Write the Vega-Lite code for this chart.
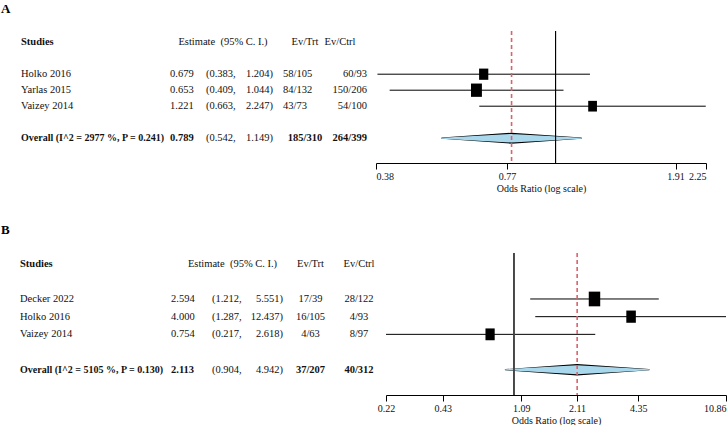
{
"$schema":"https://vega.github.io/schema/vega-lite/v6.json",
"padding":{"left":1,"top":3,"right":0,"bottom":0},
"background":"white",
"datasets":{
"a":[
{"kind":"header","row":0,"label":"Studies","head":"Estimate\u00a0\u00a0(95% C. I.)","evt":"Ev/Trt","evc":"Ev/Ctrl"},
{"kind":"study","row":2,"label":"Holko 2016","est":0.679,"lo":0.383,"hi":1.204,"evt":"58/105","evc":"60/93","weight":29.6},
{"kind":"study","row":3,"label":"Yarlas 2015","est":0.653,"lo":0.409,"hi":1.044,"evt":"84/132","evc":"150/206","weight":44.3},
{"kind":"study","row":4,"label":"Vaizey 2014","est":1.221,"lo":0.663,"hi":2.247,"evt":"43/73","evc":"54/100","weight":26.1},
{"kind":"overall","row":6,"label":"Overall (I^2 = 2977 %, P = 0.241)","est":0.789,"lo":0.542,"hi":1.149,"evt":"185/310","evc":"264/399"}
],
"b":[
{"kind":"header","row":0,"label":"Studies","head":"Estimate\u00a0\u00a0(95% C. I.)","evt":"Ev/Trt","evc":"Ev/Ctrl"},
{"kind":"study","row":2,"label":"Decker 2022","est":2.594,"lo":1.212,"hi":5.551,"evt":"17/39","evc":"28/122","weight":54.8},
{"kind":"study","row":3,"label":"Holko 2016","est":4.0,"lo":1.287,"hi":12.437,"evt":"16/105","evc":"4/93","weight":24.7},
{"kind":"study","row":4,"label":"Vaizey 2014","est":0.754,"lo":0.217,"hi":2.618,"evt":"4/63","evc":"8/97","weight":20.5},
{"kind":"overall","row":6,"label":"Overall (I^2 = 5105 %, P = 0.130)","est":2.113,"lo":0.904,"hi":4.942,"evt":"37/207","evc":"40/312"}
]
},
"config":{
"view":{"stroke":null},
"text":{"font":"Liberation Serif","fontSize":10.5,"baseline":"middle","color":"#111"},
"axis":{"labelFont":"Liberation Serif","labelFontSize":10,"titleFont":"Liberation Serif","titleFontSize":10,"titleFontWeight":"normal","labelColor":"#111","titleColor":"#111","domainColor":"black","tickColor":"black","tickSize":6,"labelPadding":2,"titlePadding":2,"grid":false},
"title":{"font":"Liberation Serif","fontSize":13,"fontWeight":"bold","color":"black","anchor":"start"}
},
"spacing":31,
"resolve":{"scale":{"x":"independent","y":"independent","size":"independent"}},
"vconcat":[
{
"title":{"text":"A","offset":14},
"spacing":0,
"bounds":"flush",
"resolve":{"scale":{"x":"independent","y":"independent","size":"independent"}},
"hconcat":[
{"width":169,"height":132,"data":{"name":"a"},"layer":[
{"transform":[{"filter":"datum.kind=='header'"}],"mark":{"type":"text","align":"left","dx":20,"fontWeight":"bold"},"encoding":{"x":{"value":0},"y":{"field":"row","type":"quantitative","scale":{"domain":[-0.7,7.55],"reverse":true,"nice":false,"zero":false},"axis":null},"text":{"field":"label"}}},
{"transform":[{"filter":"datum.kind=='study'"}],"mark":{"type":"text","align":"left","dx":20},"encoding":{"x":{"value":0},"y":{"field":"row","type":"quantitative"},"text":{"field":"label"}}},
{"transform":[{"filter":"datum.kind=='overall'"}],"mark":{"type":"text","align":"left","dx":20,"fontWeight":"bold","fontSize":10},"encoding":{"x":{"value":0},"y":{"field":"row","type":"quantitative"},"text":{"field":"label"}}}
]},
{"width":36,"height":132,"data":{"name":"a"},"layer":[
{"transform":[{"filter":"datum.kind=='study'"}],"mark":{"type":"text","align":"left"},"encoding":{"x":{"value":0},"y":{"field":"row","type":"quantitative","scale":{"domain":[-0.7,7.55],"reverse":true,"nice":false,"zero":false},"axis":null},"text":{"field":"est","type":"quantitative","format":".3f"}}},
{"transform":[{"filter":"datum.kind=='overall'"}],"mark":{"type":"text","align":"left","fontWeight":"bold","fontSize":10.5},"encoding":{"x":{"value":0},"y":{"field":"row","type":"quantitative"},"text":{"field":"est","type":"quantitative","format":".3f"}}}
]},
{"width":34,"height":132,"data":{"name":"a"},"layer":[
{"transform":[{"filter":"datum.kind=='header'"}],"mark":{"type":"text","align":"center"},"encoding":{"y":{"field":"row","type":"quantitative","scale":{"domain":[-0.7,7.55],"reverse":true,"nice":false,"zero":false},"axis":null},"text":{"field":"head"}}},
{"transform":[{"filter":"datum.kind!='header'"},{"calculate":"'(' + format(datum.lo, '.3f') + ','","as":"cil"}],"mark":{"type":"text","align":"left"},"encoding":{"x":{"value":0},"y":{"field":"row","type":"quantitative"},"text":{"field":"cil"}}}
]},
{"width":43,"height":132,"data":{"name":"a"},"layer":[
{"transform":[{"filter":"datum.kind!='header'"},{"calculate":"format(datum.hi, '.3f') + ')'","as":"cir"}],"mark":{"type":"text","align":"right","dx":-10},"encoding":{"x":{"value":"width"},"y":{"field":"row","type":"quantitative","scale":{"domain":[-0.7,7.55],"reverse":true,"nice":false,"zero":false},"axis":null},"text":{"field":"cir"}}}
]},
{"width":44,"height":132,"data":{"name":"a"},"layer":[
{"transform":[{"filter":"datum.kind=='header'"}],"mark":{"type":"text","align":"center"},"encoding":{"y":{"field":"row","type":"quantitative","scale":{"domain":[-0.7,7.55],"reverse":true,"nice":false,"zero":false},"axis":null},"text":{"field":"evt"}}},
{"transform":[{"filter":"datum.kind=='study'"}],"mark":{"type":"text","align":"left"},"encoding":{"x":{"value":0},"y":{"field":"row","type":"quantitative"},"text":{"field":"evt"}}},
{"transform":[{"filter":"datum.kind=='overall'"}],"mark":{"type":"text","align":"center","fontWeight":"bold","fontSize":10.5},"encoding":{"y":{"field":"row","type":"quantitative"},"text":{"field":"evt"}}}
]},
{"width":49,"height":132,"data":{"name":"a"},"layer":[
{"transform":[{"filter":"datum.kind=='header'"}],"mark":{"type":"text","align":"center","dx":-11.5},"encoding":{"y":{"field":"row","type":"quantitative","scale":{"domain":[-0.7,7.55],"reverse":true,"nice":false,"zero":false},"axis":null},"text":{"field":"evc"}}},
{"transform":[{"filter":"datum.kind=='study'"}],"mark":{"type":"text","align":"right","dx":-9},"encoding":{"x":{"value":"width"},"y":{"field":"row","type":"quantitative"},"text":{"field":"evc"}}},
{"transform":[{"filter":"datum.kind=='overall'"}],"mark":{"type":"text","align":"right","dx":-9,"fontWeight":"bold","fontSize":10.5},"encoding":{"x":{"value":"width"},"y":{"field":"row","type":"quantitative"},"text":{"field":"evc"}}}
]},
{"width":330,"height":132,"data":{"name":"a"},"layer":[
{"transform":[{"filter":"datum.kind=='overall'"},{"fold":["lo","est","hi"],"as":["k","v"]}],"mark":{"type":"trail","color":"black"},"encoding":{"x":{"field":"v","type":"quantitative","scale":{"type":"log","domain":[0.38,2.25],"nice":false},"axis":{"values":[0.38,0.77,1.91,2.25],"format":".2f","title":"Odds Ratio (log scale)"}},"y":{"field":"row","type":"quantitative","scale":{"domain":[-0.7,7.55],"reverse":true,"nice":false,"zero":false},"axis":null},"size":{"condition":{"test":"datum.k=='est'","value":11},"value":1.2}}},
{"transform":[{"filter":"datum.kind=='overall'"},{"fold":["lo","est","hi"],"as":["k","v"]}],"mark":{"type":"trail","color":"#a9d8ec"},"encoding":{"x":{"field":"v","type":"quantitative"},"y":{"field":"row","type":"quantitative"},"size":{"condition":{"test":"datum.k=='est'","value":8.6},"value":0}}},
{"transform":[{"filter":"datum.kind=='study'"}],"mark":{"type":"rule","color":"black","strokeWidth":1,"clip":true},"encoding":{"x":{"field":"lo","type":"quantitative"},"x2":{"field":"hi"},"y":{"field":"row","type":"quantitative"}}},
{"transform":[{"filter":"datum.kind=='study'"}],"mark":{"type":"point","shape":"M-0.82,-1L0.82,-1L0.82,1L-0.82,1Z","filled":true,"color":"black","opacity":1,"strokeWidth":0},"encoding":{"x":{"field":"est","type":"quantitative"},"y":{"field":"row","type":"quantitative"},"size":{"field":"weight","type":"quantitative","scale":{"domain":[26.1,44.3],"range":[114,177],"zero":false},"legend":null}}},
{"mark":{"type":"rule","color":"black","strokeWidth":1},"encoding":{"x":{"datum":1}}},
{"transform":[{"filter":"datum.kind=='overall'"}],"mark":{"type":"rule","color":"#d9626b","strokeWidth":1.6,"strokeDash":[4,3]},"encoding":{"x":{"field":"est","type":"quantitative"}}}
]}
]
},
{
"title":{"text":"B","offset":15},
"spacing":0,
"bounds":"flush",
"resolve":{"scale":{"x":"independent","y":"independent","size":"independent"}},
"hconcat":[
{"width":170,"height":142,"data":{"name":"b"},"layer":[
{"transform":[{"filter":"datum.kind=='header'"}],"mark":{"type":"text","align":"left","dx":19,"fontWeight":"bold"},"encoding":{"x":{"value":0},"y":{"field":"row","type":"quantitative","scale":{"domain":[-0.6,7.43],"reverse":true,"nice":false,"zero":false},"axis":null},"text":{"field":"label"}}},
{"transform":[{"filter":"datum.kind=='study'"}],"mark":{"type":"text","align":"left","dx":19},"encoding":{"x":{"value":0},"y":{"field":"row","type":"quantitative"},"text":{"field":"label"}}},
{"transform":[{"filter":"datum.kind=='overall'"}],"mark":{"type":"text","align":"left","dx":19,"fontWeight":"bold","fontSize":10},"encoding":{"x":{"value":0},"y":{"field":"row","type":"quantitative"},"text":{"field":"label"}}}
]},
{"width":41,"height":142,"data":{"name":"b"},"layer":[
{"transform":[{"filter":"datum.kind=='study'"}],"mark":{"type":"text","align":"left"},"encoding":{"x":{"value":0},"y":{"field":"row","type":"quantitative","scale":{"domain":[-0.6,7.43],"reverse":true,"nice":false,"zero":false},"axis":null},"text":{"field":"est","type":"quantitative","format":".3f"}}},
{"transform":[{"filter":"datum.kind=='overall'"}],"mark":{"type":"text","align":"left","fontWeight":"bold","fontSize":10.5},"encoding":{"x":{"value":0},"y":{"field":"row","type":"quantitative"},"text":{"field":"est","type":"quantitative","format":".3f"}}}
]},
{"width":41,"height":142,"data":{"name":"b"},"layer":[
{"transform":[{"filter":"datum.kind=='header'"}],"mark":{"type":"text","align":"center"},"encoding":{"y":{"field":"row","type":"quantitative","scale":{"domain":[-0.6,7.43],"reverse":true,"nice":false,"zero":false},"axis":null},"text":{"field":"head"}}},
{"transform":[{"filter":"datum.kind!='header'"},{"calculate":"'(' + format(datum.lo, '.3f') + ','","as":"cil"}],"mark":{"type":"text","align":"left"},"encoding":{"x":{"value":0},"y":{"field":"row","type":"quantitative"},"text":{"field":"cil"}}}
]},
{"width":30,"height":142,"data":{"name":"b"},"layer":[
{"transform":[{"filter":"datum.kind!='header'"},{"calculate":"format(datum.hi, '.3f') + ')'","as":"cir"}],"mark":{"type":"text","align":"right"},"encoding":{"x":{"value":"width"},"y":{"field":"row","type":"quantitative","scale":{"domain":[-0.6,7.43],"reverse":true,"nice":false,"zero":false},"axis":null},"text":{"field":"cir"}}}
]},
{"width":55,"height":142,"data":{"name":"b"},"layer":[
{"transform":[{"filter":"datum.kind=='header'"}],"mark":{"type":"text","align":"center"},"encoding":{"y":{"field":"row","type":"quantitative","scale":{"domain":[-0.6,7.43],"reverse":true,"nice":false,"zero":false},"axis":null},"text":{"field":"evt"}}},
{"transform":[{"filter":"datum.kind=='study'"}],"mark":{"type":"text","align":"center"},"encoding":{"y":{"field":"row","type":"quantitative"},"text":{"field":"evt"}}},
{"transform":[{"filter":"datum.kind=='overall'"}],"mark":{"type":"text","align":"center","fontWeight":"bold","fontSize":10.5},"encoding":{"y":{"field":"row","type":"quantitative"},"text":{"field":"evt"}}}
]},
{"width":48,"height":142,"data":{"name":"b"},"layer":[
{"transform":[{"filter":"datum.kind=='header'"}],"mark":{"type":"text","align":"center","dx":-3},"encoding":{"y":{"field":"row","type":"quantitative","scale":{"domain":[-0.6,7.43],"reverse":true,"nice":false,"zero":false},"axis":null},"text":{"field":"evc"}}},
{"transform":[{"filter":"datum.kind=='study'"}],"mark":{"type":"text","align":"center","dx":-3},"encoding":{"y":{"field":"row","type":"quantitative"},"text":{"field":"evc"}}},
{"transform":[{"filter":"datum.kind=='overall'"}],"mark":{"type":"text","align":"center","dx":-3,"fontWeight":"bold","fontSize":10.5},"encoding":{"y":{"field":"row","type":"quantitative"},"text":{"field":"evc"}}}
]},
{"width":340,"height":142,"data":{"name":"b"},"layer":[
{"transform":[{"filter":"datum.kind=='overall'"},{"fold":["lo","est","hi"],"as":["k","v"]}],"mark":{"type":"trail","color":"black"},"encoding":{"x":{"field":"v","type":"quantitative","scale":{"type":"log","domain":[0.22,12.3],"nice":false},"axis":{"values":[0.22,0.43,1.09,2.11,4.35,12.3],"labelExpr":"datum.value > 12 ? '10.86' : format(datum.value, '.2f')","labelAlign":{"condition":{"test":"datum.value > 12","value":"right"},"value":"center"},"title":"Odds Ratio (log scale)"}},"y":{"field":"row","type":"quantitative","scale":{"domain":[-0.6,7.43],"reverse":true,"nice":false,"zero":false},"axis":null},"size":{"condition":{"test":"datum.k=='est'","value":11.5},"value":1.2}}},
{"transform":[{"filter":"datum.kind=='overall'"},{"fold":["lo","est","hi"],"as":["k","v"]}],"mark":{"type":"trail","color":"#a9d8ec"},"encoding":{"x":{"field":"v","type":"quantitative"},"y":{"field":"row","type":"quantitative"},"size":{"condition":{"test":"datum.k=='est'","value":9.1},"value":0}}},
{"transform":[{"filter":"datum.kind=='study'"}],"mark":{"type":"rule","color":"black","strokeWidth":1,"clip":true},"encoding":{"x":{"field":"lo","type":"quantitative"},"x2":{"field":"hi"},"y":{"field":"row","type":"quantitative"}}},
{"transform":[{"filter":"datum.kind=='study'"}],"mark":{"type":"point","shape":"M-0.78,-1L0.78,-1L0.78,1L-0.78,1Z","filled":true,"color":"black","opacity":1,"strokeWidth":0},"encoding":{"x":{"field":"est","type":"quantitative"},"y":{"field":"row","type":"quantitative"},"size":{"field":"weight","type":"quantitative","scale":{"domain":[20.5,54.8],"range":[140,216],"zero":false},"legend":null}}},
{"mark":{"type":"rule","color":"#444","strokeWidth":1},"encoding":{"x":{"datum":1}}},
{"transform":[{"filter":"datum.kind=='overall'"}],"mark":{"type":"rule","color":"#d9626b","strokeWidth":1.6,"strokeDash":[4,3]},"encoding":{"x":{"field":"est","type":"quantitative"}}}
]}
]
}
]
}
